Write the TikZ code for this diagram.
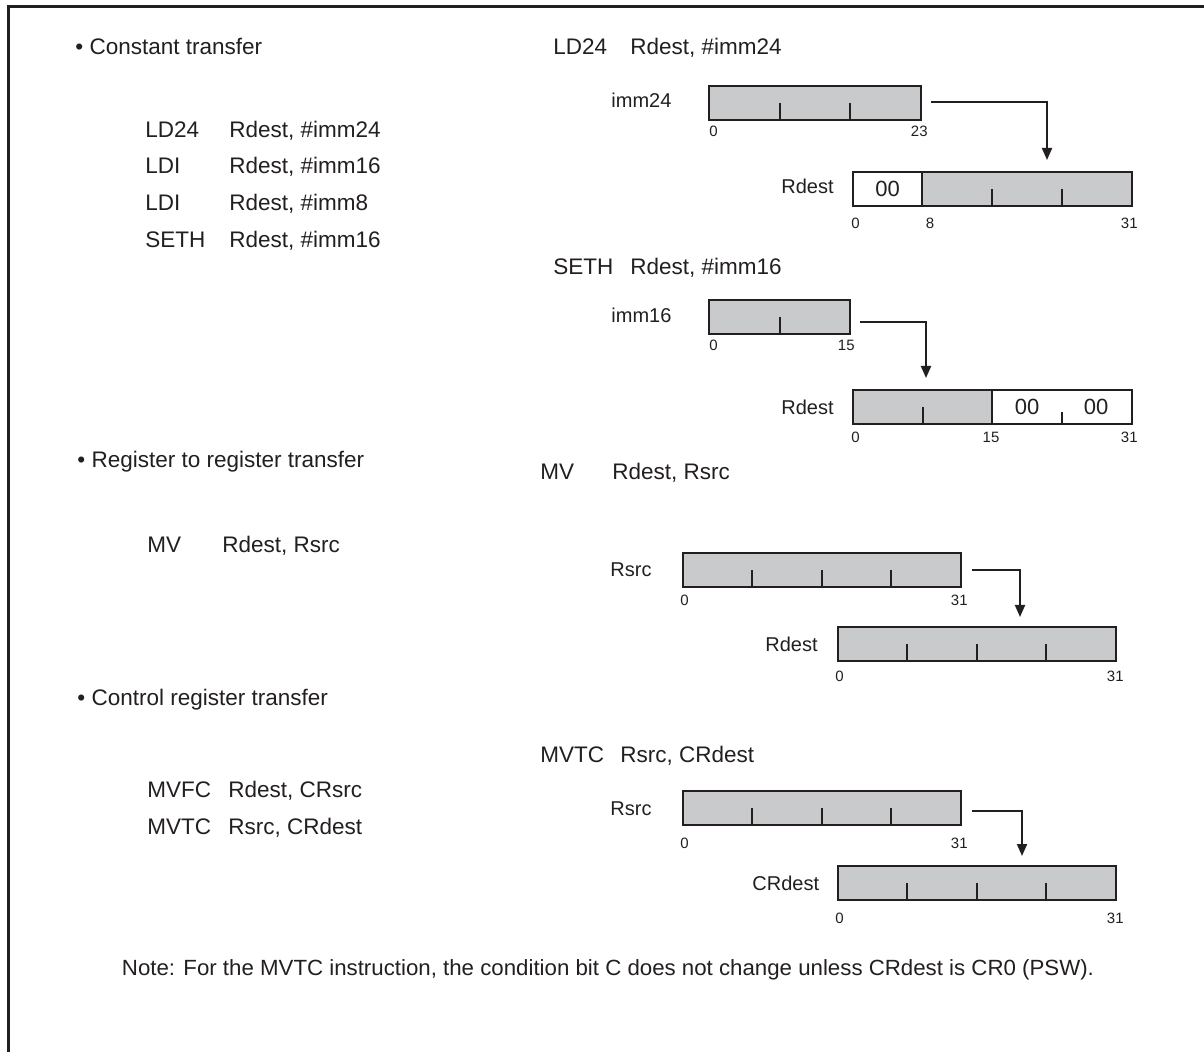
\documentclass[tikz,border=0pt]{standalone}
\usepackage{fontspec}
\setmainfont{Liberation Sans}
\usetikzlibrary{arrows.meta}
\definecolor{ink}{HTML}{231F20}
\definecolor{regfill}{HTML}{C9CACC}
\begin{document}
\begin{tikzpicture}[x=0.5pt,y=-0.5pt,
  reg/.style={draw=ink, fill=regfill, line width=1.2pt, inner sep=0pt, outer sep=0pt, anchor=north west},
  zero/.style={draw=ink, fill=white, line width=1.2pt, inner sep=0pt, outer sep=0pt, anchor=north west, text=ink, font=\fontsize{11}{13}\selectfont},
  tck/.style={line width=1pt, draw=ink},
  arr/.style={line width=1pt, draw=ink, -{Triangle[length=6pt,width=5pt]}},
  txt/.style={anchor=base west, inner sep=0pt, text=ink, font=\fontsize{11.25}{13}\selectfont},
  lbl/.style={anchor=base west, inner sep=0pt, text=ink, font=\fontsize{10}{12}\selectfont},
  num/.style={inner sep=0pt, text=ink, font=\fontsize{7.5}{9}\selectfont},
]
\useasboundingbox (0,0) rectangle (1204,1052);
\fill[white] (0,0) rectangle (1204,1052);
% frame
\draw[line width=1.5pt, ink] (8,1052) -- (8,7) -- (1204,7);

% ---------- left column ----------
\node[txt] (h1) at (75,55) {• Constant transfer};
\node[txt] (l1a) at (145,138) {LD24};  \node[txt] (l1b) at (229,138) {Rdest, \#imm24};
\node[txt] (l2a) at (145,174) {LDI};   \node[txt] (l2b) at (229,174) {Rdest, \#imm16};
\node[txt] (l3a) at (145,211) {LDI};   \node[txt] (l3b) at (229,211) {Rdest, \#imm8};
\node[txt] (l4a) at (145,248) {SETH};  \node[txt] (l4b) at (229,248) {Rdest, \#imm16};

\node[txt] (h2) at (77,468) {• Register to register transfer};
\node[txt] (m1a) at (147,553) {MV};    \node[txt] (m1b) at (222,553) {Rdest, Rsrc};

\node[txt] (h3) at (77,705) {• Control register transfer};
\node[txt] (c1a) at (147,797) {MVFC};  \node[txt] (c1b) at (228,797) {Rdest, CRsrc};
\node[txt] (c2a) at (147,834) {MVTC};  \node[txt] (c2b) at (228,834) {Rsrc, CRdest};

% ---------- LD24 diagram ----------
\node[txt] (t1a) at (553,55) {LD24};  \node[txt] (t1b) at (630,55) {Rdest, \#imm24};
\node[lbl] (imm24lbl) at (611,108) {imm24};
\node[reg, minimum width=106pt, minimum height=17pt] (imm24) at (709,86) {};
\draw[tck] (780,120) -- (780,103);
\draw[tck] (850,120) -- (850,103);
\node[num, anchor=base west] (n1) at (709,137) {0};
\node[num, anchor=base east] (n2) at (928,137) {23};

\node[lbl] (rd1lbl) at (781,194) {Rdest};
\node[reg, minimum width=139.5pt, minimum height=17pt] (rd1) at (853,172) {};
\node[zero, minimum width=34.5pt, minimum height=17pt] (rd1z) at (853,172) {00};
\draw[tck] (992,206) -- (992,189);
\draw[tck] (1062,206) -- (1062,189);
\node[num, anchor=base west] (n3) at (851,229) {0};
\node[num, anchor=base] (n4) at (930,229) {8};
\node[num, anchor=base east] (n5) at (1138,229) {31};

\coordinate (a1s) at (931,102);
\coordinate (a1e) at (1047,160);
\draw[arr] (a1s) -| (a1e);

% ---------- SETH diagram ----------
\node[txt] (t2a) at (553,275) {SETH};  \node[txt] (t2b) at (630,275) {Rdest, \#imm16};
\node[lbl] (imm16lbl) at (611,323) {imm16};
\node[reg, minimum width=70.5pt, minimum height=17pt] (imm16) at (709,300) {};
\draw[tck] (780,334) -- (780,317);
\node[num, anchor=base west] (n6) at (709,351) {0};
\node[num, anchor=base east] (n7) at (855,351) {15};

\node[lbl] (rd2lbl) at (781,415) {Rdest};
\node[reg, minimum width=139.5pt, minimum height=17pt] (rd2) at (853,390) {};
\node[zero, minimum width=70pt, minimum height=17pt] (rd2z) at (992,390) {};
\node[inner sep=0pt, text=ink, font=\fontsize{11}{13}\selectfont] (rd2za) at (1027,407) {00};
\node[inner sep=0pt, text=ink, font=\fontsize{11}{13}\selectfont] (rd2zb) at (1096,407) {00};
\draw[tck] (923,424) -- (923,407);
\draw[tck] (1062,424) -- (1062,412);
\node[num, anchor=base west] (n8) at (851,443) {0};
\node[num, anchor=base] (n9) at (991,443) {15};
\node[num, anchor=base east] (n10) at (1138,443) {31};

\coordinate (a2s) at (860,322);
\coordinate (a2e) at (926,378);
\draw[arr] (a2s) -| (a2e);

% ---------- MV diagram ----------
\node[txt] (t3a) at (540,480) {MV};  \node[txt] (t3b) at (612,480) {Rdest, Rsrc};
\node[lbl] (rs1lbl) at (610,577) {Rsrc};
\node[reg, minimum width=139pt, minimum height=17pt] (rs1) at (683,553) {};
\draw[tck] (752,587) -- (752,570);
\draw[tck] (822,587) -- (822,570);
\draw[tck] (891,587) -- (891,570);
\node[num, anchor=base west] (n11) at (680,606) {0};
\node[num, anchor=base east] (n12) at (968,606) {31};

\node[lbl] (rd3lbl) at (765,652) {Rdest};
\node[reg, minimum width=139pt, minimum height=17pt] (rd3) at (838,627) {};
\draw[tck] (907,661) -- (907,644);
\draw[tck] (977,661) -- (977,644);
\draw[tck] (1046,661) -- (1046,644);
\node[num, anchor=base west] (n13) at (835,682) {0};
\node[num, anchor=base east] (n14) at (1124,682) {31};

\coordinate (a3s) at (972,570);
\coordinate (a3e) at (1020,617);
\draw[arr] (a3s) -| (a3e);

% ---------- MVTC diagram ----------
\node[txt] (t4a) at (540,762) {MVTC};  \node[txt] (t4b) at (620,762) {Rsrc, CRdest};
\node[lbl] (rs2lbl) at (610,815) {Rsrc};
\node[reg, minimum width=139pt, minimum height=17pt] (rs2) at (683,791) {};
\draw[tck] (752,825) -- (752,808);
\draw[tck] (822,825) -- (822,808);
\draw[tck] (891,825) -- (891,808);
\node[num, anchor=base west] (n15) at (680,848) {0};
\node[num, anchor=base east] (n16) at (968,848) {31};

\node[lbl] (crdlbl) at (752,890) {CRdest};
\node[reg, minimum width=139pt, minimum height=17pt] (crd) at (838,866) {};
\draw[tck] (907,900) -- (907,883);
\draw[tck] (977,900) -- (977,883);
\draw[tck] (1046,900) -- (1046,883);
\node[num, anchor=base west] (n17) at (835,923) {0};
\node[num, anchor=base east] (n18) at (1124,923) {31};

\coordinate (a4s) at (972,811);
\coordinate (a4e) at (1022,856);
\draw[arr] (a4s) -| (a4e);

% ---------- note ----------
\node[inner sep=0pt, anchor=base, text=ink, font=\fontsize{11}{13}\selectfont] (note) at (608,975)
  {\resizebox{486pt}{\height}{Note: For the MVTC instruction, the condition bit C does not change unless CRdest is CR0 (PSW).}};
\end{tikzpicture}
\end{document}
